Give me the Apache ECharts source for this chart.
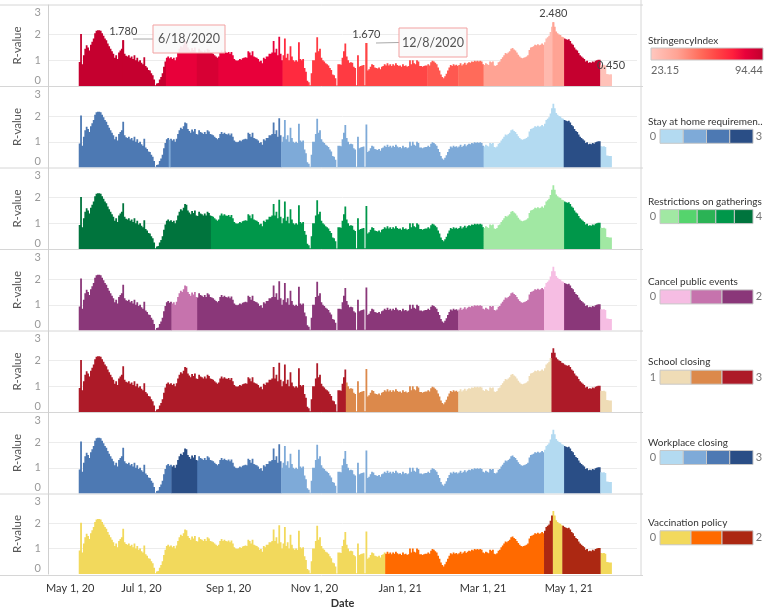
<!DOCTYPE html>
<html>
<head>
<meta charset="utf-8">
<script src="https://cdn.jsdelivr.net/npm/echarts@6/dist/echarts.min.js"></script>
<style>
  html, body { margin: 0; background: #fff; }
  #chart { width: 768px; height: 610px; }
</style>
</head>
<body>
<div id="chart"></div>
<script>
// daily R-value, first bar is 2020-05-18, one value per day
var firstDay = '2020-05-18';
var rValues = [
  0.93, 2.02, 0.85, 1.2, 1.45, 1.58, 1.5, 1.38, 1.6, 1.72,
  1.85, 2.05, 2.15, 2.17, 2.17, 2.15, 2.05, 1.95, 1.85, 1.78,
  1.65, 1.55, 1.45, 1.35, 1.25, 1.1, 1.2, 1.05, 1.3, 1.38,
  1.45, 1.78, 1.25, 1.18, 1.15, 1.2, 1.1, 1.15, 1.05, 1.2,
  1.0, 1.1, 0.95, 1.0, 0.9, 0.85, 1.12, 0.78, 0.72, 0.62,
  0.6, 0.5, 0.42, 0.25, 0.03, 0.1, 0.12, 0.25, 0.35, 0.5,
  0.75, 0.95, 1.1, 1.15, 1.08, 1.12, 1.05, 1.1, 1.0, 1.12,
  1.3, 1.45, 1.55, 1.5, 1.6, 1.75, 1.72, 1.5, 1.42, 1.35,
  1.48, 1.4, 1.5, 1.3, 1.28, 1.45, 1.38, 1.35, 1.3, 1.38,
  1.3, 1.45, 1.4, 1.3, 1.28, 1.25, 1.2, 1.15, 1.1, 1.15,
  1.3, 1.38, 1.3, 1.35, 1.3, 1.28, 1.32, 1.25, 1.32, 1.2,
  1.05, 1.0, 0.98, 1.0, 1.05, 1.02, 1.08, 1.1, 1.12, 1.1,
  1.35, 1.3, 1.2, 1.35, 1.15, 1.12, 1.1, 1.05, 0.95, 0.98,
  0.88, 1.1, 1.05, 1.15, 1.15, 1.25, 1.25, 1.3, 1.75, 1.3,
  1.45, 1.2, 1.92, 1.25, 1.0, 1.2, 1.85, 1.1, 1.25, 1.0,
  1.55, 1.15, 1.0, 0.95, 1.0, 0.95, 1.7, 1.05, 1.0, 1.05,
  0.7, 0.55, 0.2, 0.15, 0.03, 0.5, 1.0, 1.0, 1.3, 1.9,
  1.35, 1.45, 1.1, 1.0, 0.95, 0.88, 0.85, 0.8, 0.7, 0.62,
  0.45, 0.42, 0.3, 0.02, 0.85, 0.85, 0.83, 1.1, 1.35, 1.65,
  1.15, 1.0, 0.9, 0.92, 0.9, 0.75, 0.7, 0.03, 1.2, 0.75,
  0.78, 0.8, 0.82, 0.03, 1.67, 0.6, 0.65, 0.75, 0.85, 0.82,
  0.72, 0.7, 0.68, 0.72, 0.65, 0.75, 0.78, 0.85, 0.8, 0.88,
  0.8, 0.85, 0.78, 0.85, 0.8, 0.88, 0.82, 0.78, 0.8, 0.75,
  0.85, 0.78, 0.8, 0.75, 0.78, 1.0, 0.85, 1.0, 0.88, 0.85,
  1.0, 0.95, 0.78, 0.78, 0.75, 0.78, 0.8, 0.8, 0.85, 0.8,
  0.92, 0.98, 0.95, 0.9, 0.85, 0.72, 0.6, 0.45, 0.35, 0.3,
  0.38, 0.48, 0.6, 0.72, 0.82, 0.78, 0.85, 0.8, 0.83, 0.78,
  0.82, 0.88, 0.8, 0.85, 0.9, 0.83, 0.88, 0.92, 0.9, 0.95,
  0.93, 0.98, 0.95, 0.98, 0.95, 0.98, 0.95, 0.85, 0.82, 0.88,
  0.85, 0.82, 0.95, 0.92, 0.95, 0.8, 0.78, 0.82, 0.92, 0.95,
  1.05, 1.12, 1.2, 1.28, 1.25, 1.3, 1.35, 1.45, 1.48, 1.42,
  1.38, 1.3, 1.22, 1.15, 1.1, 1.08, 1.1, 1.12, 1.15, 1.2,
  1.4, 1.5, 1.52, 1.55, 1.6, 1.58, 1.62, 1.58, 1.6, 1.65,
  1.6, 1.7, 1.85, 1.9, 1.95, 2.1, 2.3, 2.48, 2.3, 2.12,
  2.05, 2.0, 1.98, 1.92, 1.9, 1.85, 1.82, 1.8, 1.82, 1.75,
  1.65, 1.6, 1.5, 1.42, 1.38, 1.28, 1.2, 1.15, 1.1, 1.05,
  0.95, 0.98, 0.9, 0.92, 0.9, 0.95, 0.92, 0.98, 1.0, 1.02,
  1.02, 0.83, 0.82, 0.83, 0.8, 0.47, 0.46, 0.45, 0.45
];

// policy values as [from date, value], valid until the next entry
var stringency = [['2020-05-18', 93], ['2020-07-19', 83], ['2020-08-10', 88], ['2020-08-25', 83],
  ['2020-10-10', 72], ['2020-10-28', 68], ['2020-12-03', 65], ['2021-01-21', 60], ['2021-02-12', 55],
  ['2021-03-02', 40], ['2021-04-14', 30], ['2021-04-20', 40], ['2021-04-28', 93], ['2021-05-24', 26]];
var stayHome = [['2020-05-18', 2], ['2020-07-21', 1], ['2020-07-22', 2], ['2020-10-09', 1],
  ['2021-03-02', 0], ['2021-04-28', 3], ['2021-05-24', 0]];
var gatherings = [['2020-05-18', 4], ['2020-08-20', 3], ['2021-03-02', 0], ['2021-04-28', 3], ['2021-05-24', 0]];
var publicEvents = [['2020-05-18', 2], ['2020-07-23', 1], ['2020-08-10', 2], ['2021-02-12', 1],
  ['2021-04-14', 0], ['2021-04-28', 2], ['2021-05-24', 0]];
var schoolClosing = [['2020-05-18', 3], ['2020-11-24', 2], ['2021-02-12', 1], ['2021-04-19', 3], ['2021-05-24', 1]];
var workplace = [['2020-05-18', 2], ['2020-07-23', 3], ['2020-08-10', 2], ['2020-10-09', 1],
  ['2021-04-14', 0], ['2021-04-28', 3], ['2021-05-24', 0]];
var vaccination = [['2020-05-18', 0], ['2020-12-22', 1], ['2021-04-14', 2], ['2021-04-20', 0],
  ['2021-04-27', 2], ['2021-05-24', 0]];

var labelledDays = ['2020-06-18', '2020-12-08', '2021-04-20', '2021-05-31'];
var tickDates = ['2020-05-01', '2020-07-01', '2020-09-01', '2020-11-01', '2021-01-01', '2021-03-01', '2021-05-01'];
var tickLabels = ['May 1, 20', 'Jul 1, 20', 'Sep 1, 20', 'Nov 1, 20', 'Jan 1, 21', 'Mar 1, 21', 'May 1, 21'];
var stringencyRange = [23.15, 94.44];

// colours
var redStops = [[23.15, '#ffc8c0'], [40, '#ffa394'], [55, '#ff6b5a'], [65, '#ff4545'],
  [75, '#ff1f3c'], [83, '#e8003a'], [94.44, '#c0002d']];
var blues = ['#b3daf1', '#7eaad8', '#4d79b3', '#2a4e86'];
var greens = ['#a1e8a3', '#55d46d', '#2bb355', '#00974a', '#00743d'];
var purples = ['#f6bde3', '#c673ad', '#8a3779'];
var schoolColors = ['#efdcb6', '#dc894b', '#ad1a28'];
var vaccColors = ['#f2d95c', '#ff6a00', '#ac2812'];

var FONT = 'Lato, "Open Sans", sans-serif';

function addDays(iso, n) {
  var d = new Date(iso + 'T00:00:00Z');
  d.setUTCDate(d.getUTCDate() + n);
  return d.toISOString().slice(0, 10);
}

function valueAt(segs, day) {
  var v = segs[0][1];
  for (var i = 0; i < segs.length; i++) if (segs[i][0] <= day) v = segs[i][1];
  return v;
}

function hex(c) { return [1, 3, 5].map(function (k) { return parseInt(c.substr(k, 2), 16); }); }
function mix(a, b, t) {
  var x = hex(a), y = hex(b);
  return 'rgb(' + x.map(function (v, i) { return Math.round(v + (y[i] - v) * t); }).join(',') + ')';
}
function stringencyColor(v) {
  for (var i = 1; i < redStops.length; i++) {
    if (v <= redStops[i][0]) {
      var t = (v - redStops[i - 1][0]) / (redStops[i][0] - redStops[i - 1][0]);
      return mix(redStops[i - 1][1], redStops[i][1], Math.max(0, t));
    }
  }
  return redStops[redStops.length - 1][1];
}

var panels = [
  { title: 'StringencyIndex', segs: stringency },
  { title: 'Stay at home requiremen..', segs: stayHome, palette: blues, lo: 0, hi: 3 },
  { title: 'Restrictions on gatherings', segs: gatherings, palette: greens, lo: 0, hi: 4 },
  { title: 'Cancel public events', segs: publicEvents, palette: purples, lo: 0, hi: 2 },
  { title: 'School closing', segs: schoolClosing, palette: schoolColors, lo: 1, hi: 3 },
  { title: 'Workplace closing', segs: workplace, palette: blues, lo: 0, hi: 3 },
  { title: 'Vaccination policy', segs: vaccination, palette: vaccColors, lo: 0, hi: 2 }
];

// axis runs a bit wider than the data, like the original
var axisDays = [];
for (var i = 0; i < 419; i++) axisDays.push(addDays('2020-04-26', i));
var days = rValues.map(function (v, i) { return addDays(firstDay, i); });
var offset = axisDays.indexOf(firstDay);

var TOP = 5, STEP = 81.5, H = 81, LEFT = 48, RIGHT_EDGE = 637;

var grids = [], xAxes = [], yAxes = [], series = [], graphics = [];

panels.forEach(function (p, k) {
  var last = k === panels.length - 1;
  grids.push({ left: LEFT, width: RIGHT_EDGE - LEFT, top: TOP + STEP * k, height: H });
  xAxes.push({
    type: 'category', gridIndex: k, data: axisDays,
    axisLine: { show: false }, axisTick: { show: false }, splitLine: { show: false },
    axisLabel: {
      show: last, color: '#333', fontSize: 11, margin: 9, fontFamily: FONT,
      interval: function (idx, val) { return tickDates.indexOf(val) >= 0; },
      formatter: function (val) {
        var j = tickDates.indexOf(val);
        return j === 0 ? '{first|' + tickLabels[0] + '}' : tickLabels[j];
      },
      rich: { first: { padding: [0, 0, 0, 29], color: '#333', fontSize: 11, fontFamily: FONT } }
    },
    name: last ? 'Date' : '', nameLocation: 'middle', nameGap: 24,
    nameTextStyle: { fontWeight: 'bold', color: '#333', fontSize: 11, fontFamily: FONT }
  });
  yAxes.push({
    type: 'value', gridIndex: k, min: 0, max: 3.15, interval: 1,
    name: 'R-value', nameLocation: 'middle', nameGap: 24, nameRotate: 90,
    nameTextStyle: { color: '#555', fontSize: 11.5, fontFamily: FONT },
    axisLine: { show: true, lineStyle: { color: '#cfcfcf' } },
    axisTick: { show: false },
    splitLine: { show: true, lineStyle: { color: ['rgba(0,0,0,0)', '#ececec', '#ececec', 'rgba(0,0,0,0)', 'rgba(0,0,0,0)'] } },
    axisLabel: {
      color: '#9a9a9a', fontSize: 11, margin: 7, fontFamily: FONT,
      formatter: function (v) {
        if (v === 0) return '{b|0}';
        if (v === 3) return '{t|3}';
        return v % 1 === 0 ? String(v) : '';
      },
      rich: {
        b: { padding: [0, 0, 12, 0], color: '#9a9a9a', fontSize: 11, fontFamily: FONT },
        t: { padding: [8, 0, 0, 0], color: '#9a9a9a', fontSize: 11, fontFamily: FONT }
      }
    }
  });

  // one series per colour, drawn in large mode so touching bars merge without seams
  var colorOf = days.map(function (d) {
    var lv = valueAt(p.segs, d);
    return p.palette ? p.palette[lv - p.lo] : stringencyColor(lv);
  });
  var seen = [];
  colorOf.forEach(function (c) { if (seen.indexOf(c) < 0) seen.push(c); });
  seen.forEach(function (c) {
    series.push({
      type: 'bar', xAxisIndex: k, yAxisIndex: k, large: true, largeThreshold: 10,
      barWidth: 1.8, barGap: '-100%', silent: true, animation: false,
      itemStyle: { color: c },
      data: axisDays.map(function (d, j) {
        var i = j - offset;
        return i >= 0 && i < rValues.length && colorOf[i] === c ? rValues[i] : '-';
      })
    });
  });
  if (k === 0) {
    series.push({
      type: 'bar', xAxisIndex: 0, yAxisIndex: 0, barWidth: 1.8, barGap: '-100%',
      silent: true, animation: false,
      data: axisDays.map(function (d, j) {
        var i = j - offset;
        if (labelledDays.indexOf(d) < 0 || i < 0 || i >= rValues.length) return '-';
        return {
          value: rValues[i], itemStyle: { color: colorOf[i] },
          label: { show: true, position: 'top', distance: 3, color: '#444', fontSize: 11, fontFamily: FONT,
            formatter: function (prm) { return Number(prm.value).toFixed(3); } }
        };
      })
    });
  }
});

// panel separators and the right border
for (var s = 0; s <= panels.length; s++) {
  graphics.push({ type: 'line', silent: true, shape: { x1: 0, y1: TOP + STEP * s, x2: 643, y2: TOP + STEP * s },
    style: { stroke: '#d6d6d6', lineWidth: 1 } });
}
graphics.push({ type: 'line', silent: true, shape: { x1: 641, y1: 0, x2: 641, y2: TOP + STEP * panels.length },
  style: { stroke: '#d6d6d6', lineWidth: 1 } });

// annotation callouts
function callout(lx1, ly1, bx, by, bw, bh, text) {
  graphics.push({ type: 'line', silent: true, z: 20, shape: { x1: lx1, y1: ly1, x2: bx, y2: by + bh / 2 },
    style: { stroke: '#a8a8a8', lineWidth: 1 } });
  graphics.push({ type: 'rect', silent: true, z: 20, shape: { x: bx, y: by, width: bw, height: bh },
    style: { fill: 'rgba(250,250,250,0.92)', stroke: '#f2a1a1', lineWidth: 1 } });
  graphics.push({ type: 'text', silent: true, z: 21, x: bx + bw / 2, y: by + bh / 2,
    style: { text: text, fill: '#555', fontSize: 12.5, fontFamily: FONT, align: 'center', verticalAlign: 'middle' } });
}
callout(133, 39, 153, 25, 72, 28, '6/18/2020');
callout(376, 43, 399, 28, 68, 29, '12/8/2020');

// legends
panels.forEach(function (p, k) {
  var ty = 41 + 80.3 * k;
  graphics.push({ type: 'text', silent: true, x: 648, y: ty,
    style: { text: p.title, fill: '#333', fontSize: 10, fontFamily: FONT, verticalAlign: 'middle' } });
  if (!p.palette) {
    var span = stringencyRange[1] - stringencyRange[0];
    graphics.push({ type: 'rect', silent: true, shape: { x: 651, y: ty + 7, width: 112, height: 12 },
      style: {
        stroke: '#c8c8c8', lineWidth: 1,
        fill: new echarts.graphic.LinearGradient(0, 0, 1, 0, redStops.map(function (st) {
          return { offset: (st[0] - stringencyRange[0]) / span, color: st[1] };
        }))
      } });
    graphics.push({ type: 'text', silent: true, x: 651, y: ty + 29,
      style: { text: stringencyRange[0].toFixed(2), fill: '#666', fontSize: 11, fontFamily: FONT, verticalAlign: 'middle' } });
    graphics.push({ type: 'text', silent: true, x: 763, y: ty + 29,
      style: { text: stringencyRange[1].toFixed(2), fill: '#666', fontSize: 11, fontFamily: FONT, align: 'right', verticalAlign: 'middle' } });
    return;
  }
  var n = p.palette.length, bw = 93 / n, by = ty + 8;
  p.palette.forEach(function (c, j) {
    graphics.push({ type: 'rect', silent: true, shape: { x: 660 + bw * j, y: by, width: bw, height: 14 },
      style: { fill: c, stroke: '#c8c8c8', lineWidth: 1 } });
  });
  graphics.push({ type: 'text', silent: true, x: 653, y: by + 7,
    style: { text: String(p.lo), fill: '#777', fontSize: 11, fontFamily: FONT, align: 'center', verticalAlign: 'middle' } });
  graphics.push({ type: 'text', silent: true, x: 759, y: by + 7,
    style: { text: String(p.hi), fill: '#777', fontSize: 11, fontFamily: FONT, align: 'center', verticalAlign: 'middle' } });
});

var chart = echarts.init(document.getElementById('chart'));
chart.setOption({
  animation: false,
  textStyle: { fontFamily: FONT },
  grid: grids,
  xAxis: xAxes,
  yAxis: yAxes,
  series: series,
  graphic: graphics
});
</script>
</body>
</html>
